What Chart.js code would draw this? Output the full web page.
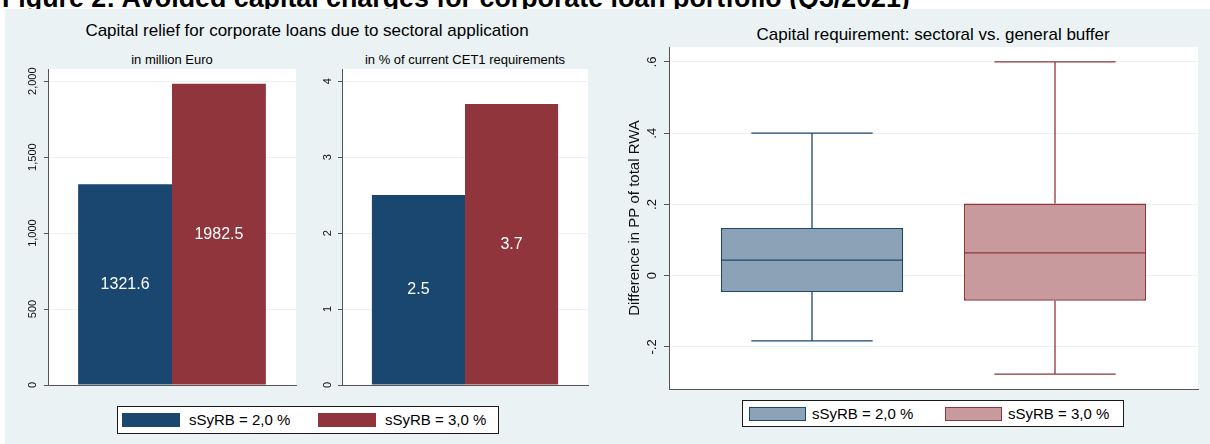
<!DOCTYPE html>
<html>
<head>
<meta charset="utf-8">
<script src="https://cdn.jsdelivr.net/npm/chart.js@4.4.1/dist/chart.umd.min.js"></script>
<style>
  html, body { margin: 0; padding: 0; background: #fff; }
  body { width: 1210px; height: 444px; position: relative; overflow: hidden; font-family: 'Liberation Sans', Arial, sans-serif; color: #000; }
  .abs { position: absolute; white-space: nowrap; }
  #head { left: 0; top: 0; width: 1210px; height: 9px; overflow: hidden; }
  #fig-title { position: absolute; left: 2px; top: -15px; font-weight: bold; font-size: 26.8px; line-height: 26.8px; white-space: nowrap; }
  #panel { left: 5px; top: 9px; right: 0; bottom: 0; background: #eaf2f3; }
  .title { font-size: 17px; line-height: 20px; text-align: center; width: 500px; }
  .subtitle { font-size: 13px; line-height: 16px; text-align: center; width: 300px; }
  canvas { position: absolute; }
  .legend { position: absolute; background: #fff; border: 1px solid #1a1a1a; box-sizing: border-box; }
  .legend .sw { position: absolute; box-sizing: border-box; }
  .legend .lbl { position: absolute; top: 0; font-size: 15px; white-space: nowrap; }
</style>
</head>
<body>
<div id="head" class="abs"><div id="fig-title">Figure 2: Avoided capital charges for corporate loan portfolio (Q3/2021)</div></div>
<div id="panel" class="abs"></div>

<div class="abs title" style="left:57px; top:21px;">Capital relief for corporate loans due to sectoral application</div>
<div class="abs subtitle" style="left:22px; top:52px;">in million Euro</div>
<div class="abs subtitle" style="left:315px; top:52px;">in % of current CET1 requirements</div>
<div class="abs title" style="left:683px; top:25px;">Capital requirement: sectoral vs. general buffer</div>

<canvas id="eur" width="292" height="324" style="left:8px; top:66px;"></canvas>
<canvas id="cet1" width="288" height="324" style="left:305px; top:66px;"></canvas>
<canvas id="pp" width="582" height="350" style="left:620px; top:44px;"></canvas>

<div id="legend-bars" class="legend" style="left:117px; top:406px; width:382px; height:28px;"></div>
<div id="legend-boxes" class="legend" style="left:742px; top:400px; width:382px; height:27px;"></div>

<script>
// series shared by all panels
const SERIES = ['sSyRB = 2,0 %', 'sSyRB = 3,0 %'];
const BAR_COLORS = ['#1a476f', '#90353b'];
const BOX_FILLS = ['#8ca3b7', '#c89a9d'];

// capital relief, million euro
const RELIEF_EUR = [1321.6, 1982.5];
const EUR_TICKS = [0, 500, 1000, 1500, 2000];

// capital relief, % of current CET1 requirements
const RELIEF_CET1 = [2.5, 3.7];
const CET1_TICKS = [0, 1, 2, 3, 4];

// difference in PP of total RWA, box statistics per series
const PP_LOW = [-0.183, -0.276];
const PP_Q1 = [-0.046, -0.070];
const PP_MEDIAN = [0.044, 0.064];
const PP_Q3 = [0.134, 0.203];
const PP_HIGH = [0.400, 0.600];
const PP_TICKS = [-0.2, 0, 0.2, 0.4, 0.6];
const PP_TICK_LABELS = ['-.2', '0', '.2', '.4', '.6'];

Chart.defaults.font.family = "'Liberation Sans', Arial, sans-serif";
Chart.defaults.color = '#111';

const plotBackground = {
  id: 'plotBackground',
  beforeDraw(chart) {
    const a = chart.chartArea;
    const ctx = chart.ctx;
    ctx.save();
    ctx.fillStyle = '#fff';
    ctx.fillRect(a.left, a.top, a.right - a.left, a.bottom - a.top);
    ctx.restore();
  }
};

// value printed in the middle of each bar
const barValues = {
  id: 'barValues',
  afterDatasetsDraw(chart) {
    const ctx = chart.ctx;
    ctx.save();
    ctx.fillStyle = '#fff';
    ctx.font = "16px 'Liberation Sans', Arial, sans-serif";
    ctx.textAlign = 'center';
    ctx.textBaseline = 'middle';
    chart.data.datasets.forEach((ds, i) => {
      chart.getDatasetMeta(i).data.forEach((bar, j) => {
        ctx.fillText(ds.data[j].toFixed(1), bar.x, (bar.y + bar.base) / 2);
      });
    });
    ctx.restore();
  }
};

// whiskers, caps and median line on top of the floating-bar boxes
const whiskers = {
  id: 'whiskers',
  afterDatasetsDraw(chart) {
    const y = chart.scales.y;
    const px = v => y.getPixelForValue(v);
    const ctx = chart.ctx;
    ctx.save();
    ctx.lineWidth = 1.3;
    chart.data.datasets.forEach((ds, i) => {
      const box = chart.getDatasetMeta(i).data[0];
      const half = box.width / 2;
      const cap = box.width / 3;
      ctx.strokeStyle = ds.borderColor;
      ctx.beginPath();
      ctx.moveTo(box.x, px(PP_Q3[i])); ctx.lineTo(box.x, px(PP_HIGH[i]));
      ctx.moveTo(box.x - cap, px(PP_HIGH[i])); ctx.lineTo(box.x + cap, px(PP_HIGH[i]));
      ctx.moveTo(box.x, px(PP_Q1[i])); ctx.lineTo(box.x, px(PP_LOW[i]));
      ctx.moveTo(box.x - cap, px(PP_LOW[i])); ctx.lineTo(box.x + cap, px(PP_LOW[i]));
      ctx.moveTo(box.x - half, px(PP_MEDIAN[i])); ctx.lineTo(box.x + half, px(PP_MEDIAN[i]));
      ctx.stroke();
    });
    ctx.restore();
  }
};

function yAxis(min, max, ticks, fmt, o) {
  return {
    min: min,
    max: max,
    afterBuildTicks: s => { s.ticks = ticks.map(v => ({ value: v })); },
    afterFit: s => { s.width = o.width; s.paddingTop = 0; s.paddingBottom = 0; },
    ticks: {
      minRotation: 90, maxRotation: 90, crossAlign: 'center', autoSkip: false,
      padding: o.pad, font: { size: o.font }, callback: fmt
    },
    grid: { color: '#eaf2f3', lineWidth: 1, tickLength: o.tick, tickColor: '#555' },
    border: { display: true, color: '#555', width: 1 },
    title: o.title ? { display: true, text: o.title, font: { size: 15 }, padding: { top: 6, bottom: 0 } } : { display: false }
  };
}

const xAxis = {
  ticks: { display: false },
  grid: { display: false, drawTicks: false },
  border: { display: true, color: '#555', width: 1 },
  afterFit: s => { s.height = 0; s.paddingLeft = 0; s.paddingRight = 0; }
};

function barChart(id, values, yMax, ticks, fmt, o, pad) {
  return new Chart(document.getElementById(id), {
    type: 'bar',
    data: {
      labels: [''],
      datasets: SERIES.map((name, i) => ({
        label: name,
        data: [values[i]],
        backgroundColor: BAR_COLORS[i],
        borderWidth: 0,
        categoryPercentage: 0.757,
        barPercentage: 1
      }))
    },
    options: {
      responsive: false,
      animation: false,
      layout: { padding: pad },
      plugins: { legend: { display: false }, tooltip: { enabled: false } },
      scales: { x: xAxis, y: yAxis(0, yMax, ticks, fmt, o) }
    },
    plugins: [plotBackground, barValues]
  });
}

barChart('eur', RELIEF_EUR, 2080, EUR_TICKS, v => v.toLocaleString('en-US'),
  { width: 40, pad: -2.8, font: 11, tick: 4 }, { top: 3, right: 4, bottom: 5, left: 0 });

barChart('cet1', RELIEF_CET1, 4.16, CET1_TICKS, v => String(v),
  { width: 37, pad: 6.9, font: 11, tick: 4 }, { top: 3, right: 5, bottom: 5, left: 0 });

new Chart(document.getElementById('pp'), {
  type: 'bar',
  data: {
    labels: [''],
    datasets: SERIES.map((name, i) => ({
      label: name,
      data: [[PP_Q1[i], PP_Q3[i]]],
      backgroundColor: BOX_FILLS[i],
      borderColor: BAR_COLORS[i],
      borderWidth: 1.5,
      borderSkipped: false,
      categoryPercentage: 0.9187,
      barPercentage: 0.749
    }))
  },
  options: {
    responsive: false,
    animation: false,
    layout: { padding: { top: 3, right: 4, bottom: 5, left: 0 } },
    plugins: { legend: { display: false }, tooltip: { enabled: false } },
    scales: {
      x: xAxis,
      y: yAxis(-0.318, 0.642, PP_TICKS, (v, i) => PP_TICK_LABELS[i],
        { width: 49, pad: 4.4, font: 13, tick: 5, title: 'Difference in PP of total RWA' })
    }
  },
  plugins: [plotBackground, whiskers]
});

// legends below the panels
function legend(id, fills, borders, swX, txtX, step, swW) {
  const box = document.getElementById(id);
  SERIES.forEach((name, i) => {
    const sw = document.createElement('div');
    sw.className = 'sw';
    sw.style.left = (swX + i * step) + 'px';
    sw.style.top = '6px';
    sw.style.width = swW + 'px';
    sw.style.height = '14px';
    sw.style.background = fills[i];
    if (borders) sw.style.border = '1.5px solid ' + borders[i];
    box.appendChild(sw);
    const lbl = document.createElement('div');
    lbl.className = 'lbl';
    lbl.style.left = (txtX + i * step) + 'px';
    lbl.style.lineHeight = (box.clientHeight) + 'px';
    lbl.textContent = name;
    box.appendChild(lbl);
  });
}

legend('legend-bars', BAR_COLORS, null, 4, 71, 196, 58);
legend('legend-boxes', BOX_FILLS, BAR_COLORS, 6, 69, 196, 57);
</script>
</body>
</html>
